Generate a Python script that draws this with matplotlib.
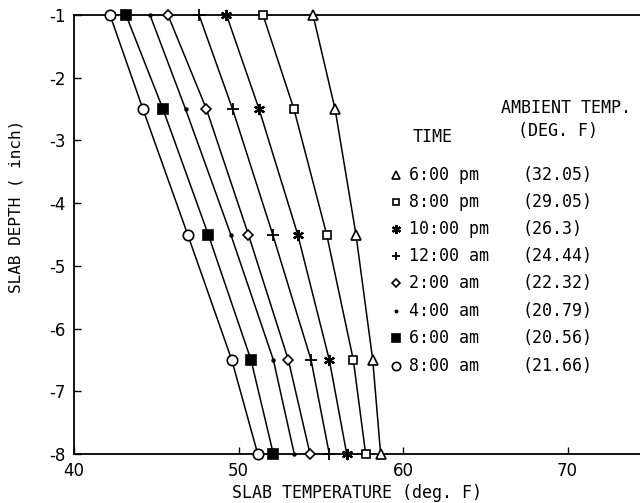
import matplotlib
matplotlib.use("Agg")
import matplotlib.pyplot as plt

depth = [-1, -2.5, -4.5, -6.5, -8]
times = ["6:00 pm", "8:00 pm", "10:00 pm", "12:00 am", "2:00 am", "4:00 am", "6:00 am", "8:00 am"]
ambient = ["(32.05)", "(29.05)", "(26.3)", "(24.44)", "(22.32)", "(20.79)", "(20.56)", "(21.66)"]
temp_6pm = [54.53, 55.87, 57.14, 58.16, 58.64]
temp_8pm = [51.49, 53.37, 55.36, 56.98, 57.73]
temp_10pm = [49.27, 51.25, 53.60, 55.52, 56.58]
temp_12am = [47.60, 49.64, 52.08, 54.41, 55.52]
temp_2am = [45.71, 48.05, 50.60, 53.03, 54.35]
temp_4am = [44.62, 46.78, 49.53, 52.12, 53.39]
temp_6am = [43.16, 45.41, 48.16, 50.76, 52.12]
temp_8am = [42.19, 44.19, 46.91, 49.59, 51.17]
series = [temp_6pm, temp_8pm, temp_10pm, temp_12am, temp_2am, temp_4am, temp_6am, temp_8am]

styles = [
    dict(marker="^", ms=7, mfc="white"),
    dict(marker="s", ms=6, mfc="white"),
    dict(marker=(6, 2, 0), ms=8, mfc="black", mew=1.6),
    dict(marker="+", ms=8, mfc="black", mew=1.3),
    dict(marker="D", ms=5, mfc="white"),
    dict(marker=".", ms=4, mfc="black"),
    dict(marker="s", ms=6.5, mfc="black"),
    dict(marker="o", ms=7.5, mfc="white"),
]

plt.rcParams['font.family'] = ['DejaVu Sans']
plt.rcParams['axes.unicode_minus'] = False
MONO = ['DejaVu Sans Mono', 'DejaVu Sans']

fig = plt.figure(figsize=(6.40, 5.03), dpi=100)
ax = fig.add_axes([74/640, 1 - 454/503, 1 - 74/640, (454 - 15)/503])

for vals, st in zip(series, styles):
    st = dict(st)
    mew = st.pop("mew", 1.2)
    ax.plot(vals, depth, color="black", lw=1.1, mec="black", mew=mew,
            clip_on=False, zorder=3, **st)

ax.set_xlim(40, 40 + (640 - 74) / 16.45)
ax.set_ylim(-8, -1)
ax.set_xticks([40, 50, 60, 70])
ax.set_yticks([-1, -2, -3, -4, -5, -6, -7, -8])
ax.tick_params(direction="in", length=5, width=1, labelsize=12, pad=6)
for s in ["left", "bottom", "top"]:
    ax.spines[s].set_linewidth(1.3)
ax.spines["right"].set_visible(False)

ax.set_xlabel("SLAB TEMPERATURE (deg. F)", fontsize=12, family=MONO, labelpad=3)
ax.set_ylabel("SLAB DEPTH ( inch)", fontsize=11.5, family=MONO)
ax.yaxis.set_label_coords(-0.09, 0.565)

# legend block (manual)
def fx(px):
    return px / 640
def fy(py):
    return 1 - py / 503

fig.text(fx(413), fy(137), "TIME", fontsize=12, family=MONO, va="center", ha="left")
fig.text(fx(566), fy(108), "AMBIENT TEMP.", fontsize=12, family=MONO, va="center", ha="center")
fig.text(fx(558), fy(131), "(DEG. F)", fontsize=12, family=MONO, va="center", ha="center")
row_y = [175, 202, 229, 256, 283, 311, 338, 366]
for t, a, st, py in zip(times, ambient, styles, row_y):
    st = dict(st)
    mew = st.pop("mew", 1.2)
    ms = st.pop("ms") * 0.8
    fig.lines.append(plt.Line2D([fx(396)], [fy(py)], transform=fig.transFigure,
                                color="black", mec="black", mew=mew, ms=ms, **st))
    fig.text(fx(409), fy(py), t, fontsize=12, family=MONO, va="center", ha="left")
    fig.text(fx(522), fy(py), a, fontsize=12, family=MONO, va="center", ha="left")

fig.savefig("out.png", dpi=100)
